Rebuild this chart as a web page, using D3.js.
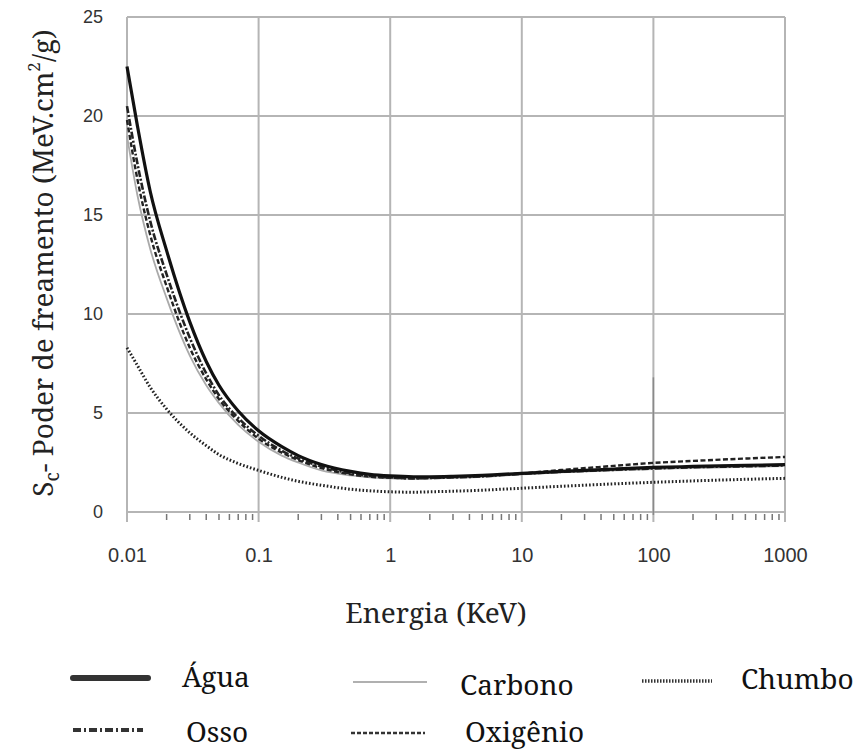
<!DOCTYPE html>
<html>
<head>
<meta charset="utf-8">
<script src="https://cdn.jsdelivr.net/npm/d3@7/dist/d3.min.js"></script>
<style>
  html, body { margin: 0; padding: 0; background: #fff; }
  svg { display: block; }
</style>
</head>
<body>
<svg id="chart" width="861" height="749"></svg>
<script>
// ---- Data ----
const energies = [0.01, 0.012, 0.015, 0.02, 0.03, 0.04, 0.05, 0.07, 0.1, 0.15, 0.2, 0.3, 0.5, 0.7, 1, 1.5, 2, 3, 5, 7, 10, 20, 50, 100, 200, 500, 1000];
const agua     = [22.5, 19.5, 16.2, 13.2, 9.6, 7.6, 6.4, 5.1, 4.1, 3.3, 2.85, 2.4, 2.05, 1.9, 1.82, 1.78, 1.78, 1.8, 1.85, 1.9, 1.95, 2.05, 2.17, 2.25, 2.3, 2.35, 2.4];
const osso     = [20.5, 17.6, 14.7, 12.0, 8.8, 7.0, 5.9, 4.75, 3.85, 3.1, 2.7, 2.3, 1.95, 1.82, 1.75, 1.7, 1.72, 1.75, 1.8, 1.87, 1.93, 2.03, 2.13, 2.2, 2.26, 2.31, 2.35];
const oxigenio = [19.8, 16.8, 14.0, 11.4, 8.3, 6.7, 5.7, 4.6, 3.7, 3.0, 2.62, 2.22, 1.9, 1.78, 1.73, 1.7, 1.72, 1.76, 1.82, 1.88, 1.95, 2.12, 2.33, 2.48, 2.58, 2.7, 2.78];
const carbono  = [19.0, 16.0, 13.3, 10.8, 7.9, 6.4, 5.5, 4.4, 3.55, 2.85, 2.5, 2.1, 1.85, 1.75, 1.7, 1.67, 1.69, 1.72, 1.77, 1.83, 1.9, 2.0, 2.1, 2.17, 2.22, 2.28, 2.32];
const chumbo   = [8.3, 7.4, 6.3, 5.2, 4.0, 3.35, 2.9, 2.45, 2.1, 1.75, 1.55, 1.35, 1.15, 1.07, 1.02, 1.0, 1.02, 1.05, 1.1, 1.15, 1.2, 1.3, 1.42, 1.5, 1.57, 1.65, 1.7];

const xTicks = [0.01, 0.1, 1, 10, 100, 1000];
const xTickLabels = ["0.01", "0.1", "1", "10", "100", "1000"];
const yTicks = [0, 5, 10, 15, 20, 25];

const seriesNames = ["Água", "Osso", "Carbono", "Oxigênio", "Chumbo"];

// ---- Styles ----
const styles = {
  "Água":     { color: "#111", width: 3.2, dash: null,        lw: 6,   ldash: null,          lcap: "round" },
  "Osso":     { color: "#222", width: 2.6, dash: "7,2,2,2",   lw: 4,   ldash: "8,3,2,3",     lcap: "butt" },
  "Carbono":  { color: "#aaa", width: 1.8, dash: null,        lw: 2,   ldash: null,          lcap: "butt" },
  "Oxigênio": { color: "#222", width: 2.4, dash: "5,2.5",     lw: 2.5, ldash: "4,2",         lcap: "butt" },
  "Chumbo":   { color: "#222", width: 3,   dash: "1.6,2",     lw: 3.5, ldash: "1.5,1.5",     lcap: "butt" }
};
const seriesData = { "Água": agua, "Osso": osso, "Carbono": carbono, "Oxigênio": oxigenio, "Chumbo": chumbo };

const svg = d3.select("#chart");
const x = d3.scaleLog().domain([0.01, 1000]).range([127, 785]);
const y = d3.scaleLinear().domain([0, 25]).range([512, 17]);

const gridColor = "#b5b5b5";
const serif = "Noto Serif";
const sans = "Liberation Sans";

// Horizontal grid
svg.append("g").selectAll("line").data(yTicks).join("line")
  .attr("x1", x(0.01)).attr("x2", x(1000))
  .attr("y1", d => y(d)).attr("y2", d => y(d))
  .attr("stroke", gridColor).attr("stroke-width", 2);

// Vertical grid (extending below the axis as major ticks)
svg.append("g").selectAll("line").data(xTicks).join("line")
  .attr("x1", d => x(d)).attr("x2", d => x(d))
  .attr("y1", y(25)).attr("y2", y(0) + 10)
  .attr("stroke", gridColor).attr("stroke-width", 2);

// Minor ticks
const minor = [];
for (let i = 0; i < xTicks.length - 1; i++) {
  for (let k = 2; k <= 9; k++) minor.push(xTicks[i] * k);
}
svg.append("g").selectAll("line").data(minor).join("line")
  .attr("x1", d => x(d)).attr("x2", d => x(d))
  .attr("y1", y(0) + 2).attr("y2", y(0) + 8)
  .attr("stroke", "#777").attr("stroke-width", 1.5);

// Scan artifact at 100 keV
svg.append("line")
  .attr("x1", x(100)).attr("x2", x(100))
  .attr("y1", y(6.8)).attr("y2", y(0) + 3)
  .attr("stroke", "#8a8a8a").attr("stroke-width", 1.5);

// X axis labels
const xAxis = d3.axisBottom(x).tickValues(xTicks)
  .tickFormat((d, i) => xTickLabels[i]).tickSize(0).tickPadding(0);
const gx = svg.append("g").attr("transform", `translate(0, ${y(0)})`).call(xAxis);
gx.select(".domain").remove();
gx.attr("font-family", null).attr("font-size", null);
gx.selectAll("text")
  .attr("y", 50).attr("dy", null)
  .style("font-family", sans).style("font-size", "20px").attr("fill", "#333");

// Y axis labels
const yAxis = d3.axisLeft(y).tickValues(yTicks).tickSize(0).tickPadding(0);
const gy = svg.append("g").attr("transform", `translate(103, 0)`).call(yAxis);
gy.select(".domain").remove();
gy.attr("font-family", null).attr("font-size", null);
gy.selectAll("text")
  .attr("x", 0).attr("dy", "0.3em")
  .style("font-family", sans).style("font-size", "18px").attr("fill", "#333");

// Curves
const line = d3.line()
  .x((d, i) => x(energies[i]))
  .y(d => y(d))
  .curve(d3.curveMonotoneX);

const drawOrder = ["Carbono", "Chumbo", "Oxigênio", "Osso", "Água"];
drawOrder.forEach(name => {
  const s = styles[name];
  svg.append("path")
    .datum(seriesData[name])
    .attr("d", line)
    .attr("fill", "none")
    .attr("stroke", s.color)
    .attr("stroke-width", s.width)
    .attr("stroke-dasharray", s.dash)
    .attr("stroke-linejoin", "round");
});

// Axis titles
svg.append("text")
  .attr("x", 436).attr("y", 623)
  .attr("text-anchor", "middle")
  .style("font-family", serif).style("font-size", "28px").attr("fill", "#222")
  .text("Energia (KeV)");

const yt = svg.append("text")
  .attr("transform", "translate(53, 263) rotate(-90)")
  .attr("text-anchor", "middle")
  .style("font-family", serif).style("font-size", "28px").attr("fill", "#222");
yt.append("tspan").text("S");
yt.append("tspan").attr("dy", 6).style("font-size", "19px").text("c");
yt.append("tspan").attr("dy", -6).text("- Poder de freamento (MeV.cm");
yt.append("tspan").attr("dy", -13).style("font-size", "17px").text("2");
yt.append("tspan").attr("dy", 13).text("/g)");

// Legend
const legend = [
  { name: "Água",     lx1: 73,  lx2: 148, ly: 678, tx: 182, ty: 687 },
  { name: "Carbono",  lx1: 353, lx2: 427, ly: 682, tx: 460, ty: 695 },
  { name: "Chumbo",   lx1: 642, lx2: 712, ly: 681, tx: 741, ty: 689 },
  { name: "Osso",     lx1: 73,  lx2: 143, ly: 730, tx: 186, ty: 742 },
  { name: "Oxigênio", lx1: 351, lx2: 425, ly: 733, tx: 465, ty: 742 }
];
const lg = svg.append("g");
legend.forEach(L => {
  const s = styles[L.name];
  lg.append("line")
    .attr("x1", L.lx1).attr("x2", L.lx2).attr("y1", L.ly).attr("y2", L.ly)
    .attr("stroke", L.name === "Carbono" ? "#b0b0b0" : "#333")
    .attr("stroke-width", s.lw)
    .attr("stroke-linecap", s.lcap)
    .attr("stroke-dasharray", s.ldash);
  lg.append("text")
    .attr("x", L.tx).attr("y", L.ty)
    .style("font-family", serif).style("font-size", "28px").attr("fill", "#111")
    .text(L.name);
});
</script>
</body>
</html>
